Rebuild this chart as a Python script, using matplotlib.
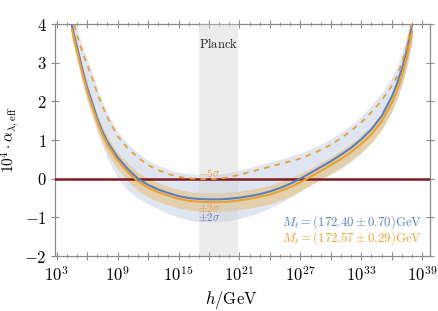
import numpy as np
import matplotlib
matplotlib.use("Agg")
import matplotlib.pyplot as plt
from matplotlib.ticker import FixedLocator, FuncFormatter, NullFormatter

plt.rcParams["mathtext.fontset"] = "cm"
plt.rcParams["font.family"] = "serif"
plt.rcParams["font.serif"] = ["DejaVu Serif"]

# log10(h/GeV) grid on which the curves were read
h_exp = [4.5, 5, 5.5, 6, 6.5, 7, 7.5, 8, 9, 10, 11, 12, 13, 14, 15, 16, 17, 18, 19,
         20, 21, 22, 23, 24, 25, 26, 27, 28, 29, 30, 31, 32, 33, 34, 35, 36, 36.5,
         37, 37.5, 38]

# Mt = 172.40 +- 0.70 GeV (blue)
blue_mid = [3.95, 3.4, 2.85, 2.35, 1.95, 1.55, 1.22, 0.95, 0.55, 0.25, 0.0, -0.16,
            -0.28, -0.37, -0.45, -0.50, -0.525, -0.535, -0.535, -0.52, -0.49, -0.45,
            -0.40, -0.33, -0.24, -0.13, 0.0, 0.15, 0.30, 0.45, 0.62, 0.80, 1.02, 1.28,
            1.62, 2.12, 2.45, 2.85, 3.35, 4.0]
blue_lo = [3.6, 3.05, 2.5, 2.0, 1.6, 1.2, 0.85, 0.52, 0.02, -0.3, -0.5, -0.65,
           -0.78, -0.9, -1.0, -1.07, -1.11, -1.12, -1.11, -1.08, -1.03, -0.96, -0.87,
           -0.76, -0.63, -0.48, -0.32, -0.15, 0.0, 0.12, 0.27, 0.45, 0.66, 0.94, 1.3,
           1.75, 2.05, 2.42, 2.9, 3.5]
blue_hi = [4.5, 3.9, 3.45, 3.08, 2.72, 2.32, 2.0, 1.7, 1.22, 0.9, 0.67, 0.47, 0.34,
           0.24, 0.17, 0.13, 0.11, 0.11, 0.12, 0.16, 0.22, 0.29, 0.36, 0.43, 0.5, 0.58,
           0.66, 0.77, 0.89, 1.03, 1.2, 1.39, 1.62, 1.9, 2.22, 2.62, 2.88, 3.25, 3.72,
           4.4]

# Mt = 172.57 +- 0.29 GeV (orange)
orange_mid = [3.85, 3.3, 2.76, 2.26, 1.86, 1.47, 1.14, 0.87, 0.47, 0.17, -0.07, -0.23,
              -0.35, -0.44, -0.52, -0.57, -0.595, -0.605, -0.605, -0.59, -0.56, -0.52,
              -0.47, -0.41, -0.32, -0.22, -0.09, 0.05, 0.2, 0.35, 0.51, 0.69, 0.9, 1.15,
              1.48, 1.96, 2.28, 2.66, 3.15, 3.8]
orange_lo = [3.65, 3.1, 2.56, 2.06, 1.66, 1.27, 0.94, 0.66, 0.25, -0.06, -0.3, -0.47,
             -0.59, -0.68, -0.76, -0.81, -0.835, -0.845, -0.845, -0.83, -0.8, -0.76,
             -0.71, -0.65, -0.56, -0.46, -0.32, -0.17, -0.02, 0.13, 0.29, 0.47, 0.68,
             0.93, 1.26, 1.74, 2.06, 2.44, 2.93, 3.58]
orange_hi = [4.05, 3.5, 2.96, 2.46, 2.06, 1.67, 1.34, 1.08, 0.69, 0.4, 0.16, 0.01,
             -0.11, -0.2, -0.28, -0.33, -0.355, -0.365, -0.365, -0.35, -0.32, -0.28,
             -0.23, -0.17, -0.08, 0.02, 0.14, 0.27, 0.42, 0.57, 0.73, 0.91, 1.12, 1.37,
             1.7, 2.18, 2.5, 2.88, 3.37, 4.02]
# Mt - 5 sigma (orange dashed)
orange_m5 = [4.25, 3.7, 3.3, 2.95, 2.6, 2.2, 1.88, 1.58, 1.1, 0.78, 0.55, 0.35, 0.22,
             0.12, 0.05, 0.01, -0.01, -0.01, 0.0, 0.04, 0.1, 0.17, 0.24, 0.31, 0.38,
             0.45, 0.52, 0.63, 0.74, 0.88, 1.05, 1.24, 1.46, 1.72, 2.02, 2.4, 2.64, 3.0,
             3.45, 4.1]

planck_exp = [17.0, 20.9]
x_major = list(range(3, 40, 3))
x_labeled = list(range(3, 40, 6))

c_blue = "#5b7fc0"
c_orange = "#eaa232"
c_red = "#7e1a1e"

h = 10.0 ** np.array(h_exp)

fig = plt.figure(figsize=(4.38, 3.11), dpi=100)
ax = fig.add_axes([0.1256, 0.1768, 0.8568, 0.746])

ax.fill_between(h, blue_lo, blue_hi, color="#dfe5f1", lw=0, zorder=1)
ax.fill_between(h, orange_lo, orange_hi, color="#e4cc9f", alpha=0.85, lw=0, zorder=2)
ax.axvspan(10 ** planck_exp[0], 10 ** planck_exp[1], color="#d0d0d0", alpha=0.4,
           lw=0, zorder=3)
ax.axhline(0, color=c_red, lw=1.8, zorder=4)
ax.plot(h, orange_m5, color=c_orange, lw=1.3, ls=(0, (3, 3)), zorder=6)
ax.plot(h, blue_mid, color=c_blue, lw=1.5, zorder=5)
ax.plot(h, orange_mid, color=c_orange, lw=1.5, zorder=5)

ax.set_xscale("log")
ax.set_xlim(10 ** 2.833, 10 ** 39.79)
ax.set_ylim(-2, 4)

ax.xaxis.set_major_locator(FixedLocator([10.0 ** e for e in x_major]))
ax.xaxis.set_minor_locator(FixedLocator([10.0 ** e for e in range(3, 40)]))
ax.xaxis.set_minor_formatter(NullFormatter())
ax.xaxis.set_major_formatter(FuncFormatter(
    lambda v, p: r"$10^{%d}$" % round(np.log10(v)) if round(np.log10(v)) in x_labeled else ""))
ax.set_yticks([-2, -1, 0, 1, 2, 3, 4])
ax.yaxis.set_major_formatter(FuncFormatter(lambda v, p: r"$%d$" % v))

for s in ax.spines.values():
    s.set_color("#8a8a8a")
    s.set_linewidth(0.9)
ax.tick_params(which="both", direction="inout", color="#8a8a8a", top=True, right=True,
               labelsize=12)
ax.tick_params(which="major", length=6, width=0.8)
ax.tick_params(which="minor", length=3.5, width=0.6)
ax.tick_params(axis="x", pad=4)
ax.tick_params(axis="y", pad=3)

ax.set_xlabel(r"$h/\mathrm{GeV}$", fontsize=12)
ax.xaxis.set_label_coords(0.47, -0.142)
ax.set_ylabel(r"$10^4\cdot\alpha_{\lambda,\mathrm{eff}}$", fontsize=11)
ax.yaxis.set_label_coords(-0.09, 0.5)

ax.text(10 ** 18.95, 3.48, r"$\mathrm{Planck}$", ha="center", va="center", fontsize=9,
        color="#222222", zorder=7)
ax.text(10 ** 16.9, 0.14, r"$-5\sigma$", color=c_orange, fontsize=8, ha="left",
        va="center", zorder=7)
ax.text(10 ** 16.9, -0.75, r"$\pm2\sigma$", color=c_orange, fontsize=8, ha="left",
        va="center", zorder=7)
ax.text(10 ** 16.9, -1.0, r"$\pm2\sigma$", color=c_blue, fontsize=8, ha="left",
        va="center", zorder=7)
ax.text(10 ** 39.0, -1.12, r"$M_t=(172.40\pm0.70)\mathrm{GeV}$", color=c_blue,
        fontsize=9.2, ha="right", va="center", zorder=7)
ax.text(10 ** 39.0, -1.53, r"$M_t=(172.57\pm0.29)\mathrm{GeV}$", color=c_orange,
        fontsize=9.2, ha="right", va="center", zorder=7)

fig.savefig("out.png", dpi=100)
